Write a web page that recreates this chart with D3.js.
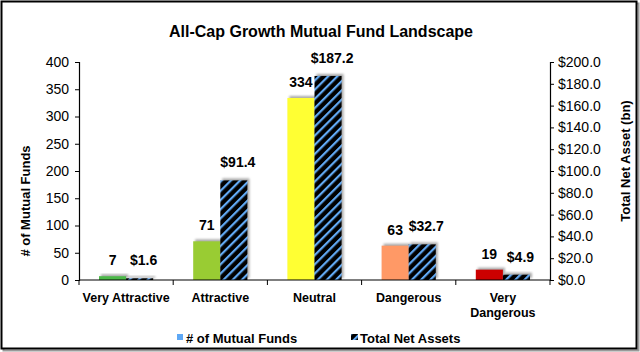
<!DOCTYPE html>
<html>
<head>
<meta charset="utf-8">
<script src="https://cdn.jsdelivr.net/npm/d3@7"></script>
<style>
  body { margin: 0; background: #fff; }
  svg text { font-family: "Liberation Sans", Arial, sans-serif; }
</style>
</head>
<body>
<svg id="chart" width="640" height="352"></svg>
<script>
"use strict";

// data
const categories = ["Very Attractive", "Attractive", "Neutral", "Dangerous", "Very Dangerous"];
const fundCounts = [7, 71, 334, 63, 19];
const netAssets  = [1.6, 91.4, 187.2, 32.7, 4.9];
const fundColors = ["#4cb848", "#99cc33", "#ffff33", "#ff9966", "#cc0000"];
const leftTicks  = [0, 50, 100, 150, 200, 250, 300, 350, 400];
const rightTicks = [0, 20, 40, 60, 80, 100, 120, 140, 160, 180, 200];

const margin = { top: 62, right: 90, bottom: 72, left: 79 };
const width  = 640 - margin.left - margin.right;   // 471
const height = 352 - margin.top - margin.bottom;   // 218

const svg = d3.select("#chart");
const defs = svg.append("defs");

// diagonal hatch for total net assets
const pat = defs.append("pattern")
    .attr("id", "hatch")
    .attr("patternUnits", "userSpaceOnUse")
    .attr("width", 6.5).attr("height", 6.5)
    .attr("patternTransform", "rotate(45)");
pat.append("rect").attr("width", 6.5).attr("height", 6.5).attr("fill", "#000");
pat.append("rect").attr("x", 0).attr("width", 2.2).attr("height", 6.5).attr("fill", "#62aaf5");

// soft shadow
const blur = defs.append("filter").attr("id", "soft")
    .attr("x", "-20%").attr("y", "-20%").attr("width", "140%").attr("height", "140%");
blur.append("feGaussianBlur").attr("stdDeviation", 1);

// frame with shadow
svg.append("rect")
    .attr("x", 3.5).attr("y", 3.5).attr("width", 635).attr("height", 347)
    .attr("fill", "none").attr("stroke", "#999").attr("stroke-width", 2);
svg.append("rect")
    .attr("x", 1.5).attr("y", 1.5).attr("width", 635).attr("height", 347)
    .attr("fill", "#fff").attr("stroke", "#000").attr("stroke-width", 2);

// title
svg.append("text")
    .attr("x", 321).attr("y", 37)
    .attr("text-anchor", "middle")
    .style("font-size", "16px").style("font-weight", "bold")
    .text("All-Cap Growth Mutual Fund Landscape");

const g = svg.append("g")
    .attr("transform", "translate(" + margin.left + "," + margin.top + ")");

// scales
const x = d3.scaleBand().domain(categories).range([0, width]).padding(0);
const x1 = d3.scaleBand().domain(["funds", "assets"]).range([20, x.bandwidth() - 20]).padding(0);
const yL = d3.scaleLinear().domain([0, 400]).range([height, 0]);
const yR = d3.scaleLinear().domain([0, 200]).range([height, 0]);

// left axis
const axL = g.append("g")
    .call(d3.axisLeft(yL).tickValues(leftTicks).tickSize(4).tickPadding(6));
// right axis
const axR = g.append("g")
    .attr("transform", "translate(" + width + ",0)")
    .call(d3.axisRight(yR).tickValues(rightTicks).tickSize(4).tickPadding(4)
      .tickFormat((d) => "$" + d3.format(".1f")(d)));

[axL, axR].forEach((ax) => {
  ax.select(".domain").attr("stroke", "#000").attr("stroke-width", 1.2);
  ax.selectAll(".tick line").attr("stroke", "#000");
  ax.selectAll(".tick text").style("font-size", "14px").attr("fill", "#000")
    .style("font-family", "'Liberation Sans', Arial, sans-serif");
});

// bars
const groups = g.selectAll(".cat")
    .data(categories.map((c, i) => ({ name: c, funds: fundCounts[i], assets: netAssets[i], color: fundColors[i] })))
  .enter().append("g")
    .attr("class", "cat")
    .attr("transform", (d) => "translate(" + x(d.name) + ",0)");

const bw = x1.bandwidth();

// shadows
groups.append("rect")
    .attr("x", x1("funds") + 2).attr("y", (d) => yL(d.funds) - 2)
    .attr("width", bw).attr("height", (d) => height - yL(d.funds))
    .attr("fill", "#888").attr("opacity", 0.7).attr("filter", "url(#soft)");
groups.append("rect")
    .attr("x", x1("assets") + 2).attr("y", (d) => yR(d.assets) - 2)
    .attr("width", bw).attr("height", (d) => height - yR(d.assets))
    .attr("fill", "#888").attr("opacity", 0.7).attr("filter", "url(#soft)");

groups.append("rect")
    .attr("x", x1("funds")).attr("y", (d) => yL(d.funds))
    .attr("width", bw).attr("height", (d) => height - yL(d.funds))
    .attr("fill", (d) => d.color);
groups.append("rect")
    .attr("x", x1("assets")).attr("y", (d) => yR(d.assets))
    .attr("width", bw).attr("height", (d) => height - yR(d.assets))
    .attr("fill", "url(#hatch)");

// value labels
groups.append("text")
    .attr("x", x1("funds") + bw / 2).attr("y", (d) => yL(d.funds) - 11)
    .attr("text-anchor", "middle")
    .style("font-size", "14px").style("font-weight", "bold")
    .text((d) => d.funds);
groups.append("text")
    .attr("x", x1("assets") + bw / 2 + 4).attr("y", (d) => yR(d.assets) - 13)
    .attr("text-anchor", "middle")
    .style("font-size", "14px").style("font-weight", "bold")
    .text((d) => "$" + d3.format(".1f")(d.assets));

// bottom axis with boundary ticks
g.append("line")
    .attr("x1", 0).attr("x2", width).attr("y1", height).attr("y2", height)
    .attr("stroke", "#000").attr("stroke-width", 1.2);
g.selectAll(".btick")
    .data(categories.concat(["_end"]))
  .enter().append("line")
    .attr("x1", (d) => d === "_end" ? width : x(d))
    .attr("x2", (d) => d === "_end" ? width : x(d))
    .attr("y1", height).attr("y2", height + 5)
    .attr("stroke", "#000");

// category labels, wrapped where Excel wrapped
const catLines = { "Very Dangerous": ["Very", "Dangerous"] };
categories.forEach((c) => {
  const lines = catLines[c] || [c];
  const t = g.append("text")
      .attr("x", x(c) + x.bandwidth() / 2).attr("y", height + 22)
      .attr("text-anchor", "middle")
      .style("font-size", "12.5px").style("font-weight", "bold");
  lines.forEach((l, i) => {
    t.append("tspan").attr("x", x(c) + x.bandwidth() / 2).attr("dy", i ? 15 : 0).text(l);
  });
});

// axis titles
svg.append("text")
    .attr("transform", "translate(30,201) rotate(-90)")
    .attr("text-anchor", "middle")
    .style("font-size", "13px").style("font-weight", "bold")
    .text("# of Mutual Funds");
svg.append("text")
    .attr("transform", "translate(630,161) rotate(-90)")
    .attr("text-anchor", "middle")
    .style("font-size", "13px").style("font-weight", "bold")
    .text("Total Net Asset (bn)");

// legend
const legend = svg.append("g").attr("transform", "translate(0,343)");
legend.append("rect").attr("x", 177).attr("y", -9).attr("width", 6).attr("height", 6).attr("fill", "#5ea8f5");
legend.append("text").attr("x", 186).attr("y", 0)
    .style("font-size", "13px").style("font-weight", "bold").text("# of Mutual Funds");
legend.append("rect").attr("x", 351).attr("y", -9).attr("width", 7).attr("height", 6).attr("fill", "url(#hatch)");
legend.append("text").attr("x", 360).attr("y", 0)
    .style("font-size", "13px").style("font-weight", "bold").text("Total Net Assets");
</script>
</body>
</html>
